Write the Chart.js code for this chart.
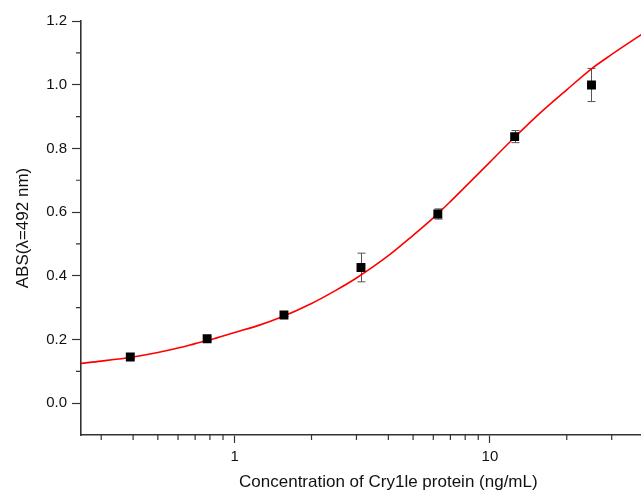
<!DOCTYPE html>
<html>
<head>
<meta charset="utf-8">
<script src="https://cdn.jsdelivr.net/npm/chart.js@4.4.0/dist/chart.umd.min.js"></script>
<style>
  html, body { margin: 0; padding: 0; background: #fff; overflow: hidden; }
  #wrap { width: 702px; height: 494px; }
</style>
</head>
<body>
<div id="wrap"><canvas id="absChart" width="702" height="494"></canvas></div>
<script>
// measured points (mean +/- sd)
var concentrations = [0.39, 0.78, 1.56, 3.125, 6.25, 12.5, 25];
var absMeans = [0.145, 0.202, 0.277, 0.426, 0.594, 0.837, 0.999];
var absSd = [0.005, 0.005, 0.005, 0.045, 0.016, 0.019, 0.052];

// fitted curve
var fitX = [0.25, 0.3, 0.4, 0.5, 0.6, 0.7, 0.8, 1, 1.25, 1.5, 2, 2.5, 3, 4, 5, 6, 7, 8, 10, 12.5, 15, 20, 25, 30, 40];
var fitY = [0.125, 0.132, 0.145, 0.159, 0.173, 0.187, 0.199, 0.222, 0.245, 0.268, 0.313, 0.355, 0.393, 0.463, 0.527, 0.582, 0.633, 0.679, 0.757, 0.835, 0.896, 0.984, 1.050, 1.095, 1.162];

// axis ticks
var xMajorTicks = [1, 10];
var xMinorTicks = [0.3, 0.4, 0.5, 0.6, 0.7, 0.8, 0.9, 2, 3, 4, 5, 6, 7, 8, 9, 20, 30, 40, 50, 60];
var yMajorTicks = [0, 0.2, 0.4, 0.6, 0.8, 1.0, 1.2];
var yMinorTicks = [0.1, 0.3, 0.5, 0.7, 0.9, 1.1];

var axisColor = '#333';

var errorBars = {
    id: 'errorBars',
    beforeDatasetsDraw: function(chart) {
        var ctx = chart.ctx;
        var xs = chart.scales.x, ys = chart.scales.y;
        ctx.save();
        ctx.strokeStyle = '#555';
        ctx.lineWidth = 1;
        for (var i = 0; i < concentrations.length; i++) {
            var px = Math.round(xs.getPixelForValue(concentrations[i])) + 0.5;
            var top = ys.getPixelForValue(absMeans[i] + absSd[i]);
            var bot = ys.getPixelForValue(absMeans[i] - absSd[i]);
            ctx.beginPath();
            ctx.moveTo(px, top); ctx.lineTo(px, bot);
            ctx.moveTo(px - 4, top); ctx.lineTo(px + 4, top);
            ctx.moveTo(px - 4, bot); ctx.lineTo(px + 4, bot);
            ctx.stroke();
        }
        ctx.restore();
    }
};

var minorTicks = {
    id: 'minorTicks',
    afterDraw: function(chart) {
        var ctx = chart.ctx;
        var xs = chart.scales.x, ys = chart.scales.y;
        var area = chart.chartArea;
        ctx.save();
        ctx.strokeStyle = axisColor;
        ctx.lineWidth = 1.2;
        ctx.beginPath();
        xMinorTicks.forEach(function(v) {
            var px = xs.getPixelForValue(v);
            ctx.moveTo(px, area.bottom);
            ctx.lineTo(px, area.bottom + 5);
        });
        yMinorTicks.forEach(function(v) {
            var py = ys.getPixelForValue(v);
            ctx.moveTo(area.left, py);
            ctx.lineTo(area.left - 5, py);
        });
        ctx.stroke();
        ctx.restore();
    }
};

var ctx = document.getElementById('absChart').getContext('2d');
new Chart(ctx, {
    type: 'scatter',
    data: {
        datasets: [{
            label: 'ABS',
            data: concentrations.map(function(c, i) { return {x: c, y: absMeans[i]}; }),
            pointStyle: 'rect',
            pointRadius: 6.3,
            backgroundColor: '#000',
            borderColor: '#000',
            borderWidth: 0,
            order: 0
        }, {
            label: 'Fit',
            type: 'line',
            data: fitX.map(function(x, i) { return {x: x, y: fitY[i]}; }),
            borderColor: '#ff0000',
            borderWidth: 1.6,
            pointRadius: 0,
            fill: false,
            cubicInterpolationMode: 'monotone',
            order: 1
        }]
    },
    options: {
        responsive: false,
        animation: false,
        layout: { padding: { top: 21, right: 0, left: 0, bottom: 0 } },
        plugins: {
            legend: { display: false },
            tooltip: { enabled: false }
        },
        scales: {
            x: {
                type: 'logarithmic',
                min: 0.25,
                max: 64,
                afterBuildTicks: function(scale) {
                    scale.ticks = xMajorTicks.map(function(v) { return {value: v}; });
                },
                afterFit: function(scale) { scale.height = 59; },
                ticks: {
                    color: '#111',
                    font: { family: 'Liberation Sans, Arial', size: 15 },
                    padding: 5,
                    maxRotation: 0,
                    callback: function(v) { return String(v); }
                },
                grid: {
                    drawOnChartArea: false,
                    drawTicks: true,
                    tickLength: 8,
                    tickColor: axisColor,
                    tickWidth: 1.2
                },
                border: { display: true, color: axisColor, width: 1.6 },
                title: {
                    display: true,
                    text: 'Concentration of Cry1le protein (ng/mL)',
                    color: '#111',
                    font: { family: 'Liberation Sans, Arial', size: 17 },
                    padding: { top: 2, bottom: 1 }
                }
            },
            y: {
                type: 'linear',
                min: -0.1,
                max: 1.2,
                afterBuildTicks: function(scale) {
                    scale.ticks = yMajorTicks.map(function(v) { return {value: v}; });
                },
                afterFit: function(scale) { scale.width = 81; },
                ticks: {
                    color: '#111',
                    font: { family: 'Liberation Sans, Arial', size: 15 },
                    padding: 5,
                    callback: function(v) { return Number(v).toFixed(1); }
                },
                grid: {
                    drawOnChartArea: false,
                    drawTicks: true,
                    tickLength: 9,
                    tickColor: axisColor,
                    tickWidth: 1.2
                },
                border: { display: true, color: axisColor, width: 1.6 },
                title: {
                    display: true,
                    text: 'ABS(λ=492 nm)',
                    color: '#111',
                    font: { family: 'Liberation Sans, Arial', size: 17 },
                    padding: { top: 13, bottom: 0 }
                }
            }
        }
    },
    plugins: [errorBars, minorTicks]
});
</script>
</body>
</html>
